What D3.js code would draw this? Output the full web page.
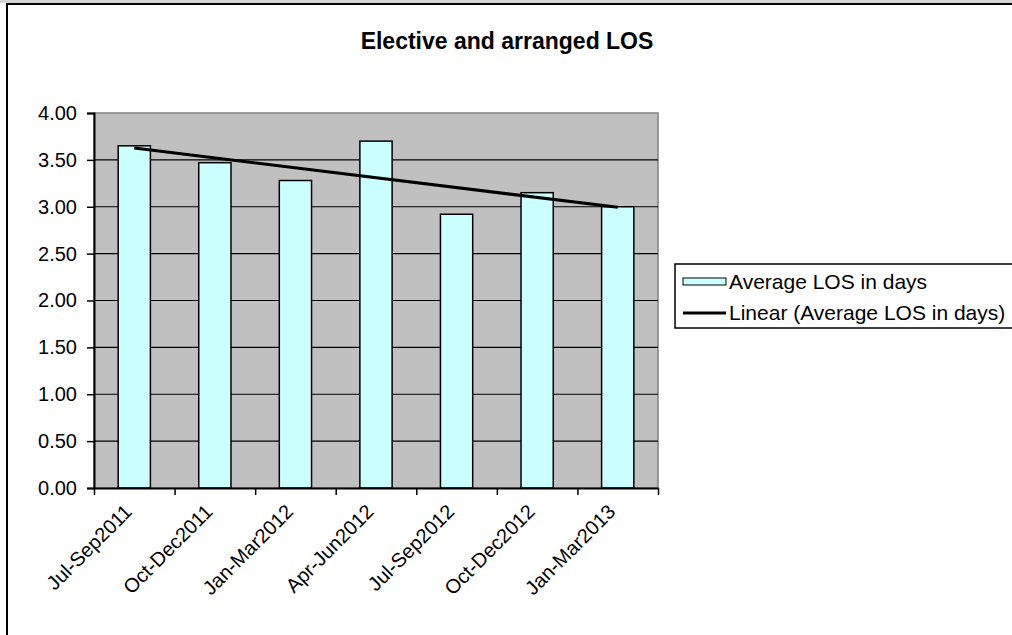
<!DOCTYPE html>
<html>
<head>
<meta charset="utf-8">
<script src="https://cdn.jsdelivr.net/npm/d3@7"></script>
<style>
  body { margin: 0; background: #fff; }
  svg { display: block; font-family: "Liberation Sans", Arial, sans-serif; }
</style>
</head>
<body>
<div id="chart"></div>
<script>
let categories = ["Jul-Sep2011", "Oct-Dec2011", "Jan-Mar2012", "Apr-Jun2012",
    "Jul-Sep2012", "Oct-Dec2012", "Jan-Mar2013"]
let losValues = [3.65, 3.47, 3.28, 3.70, 2.92, 3.15, 3.00]
let yTicks = [0, 0.5, 1, 1.5, 2, 2.5, 3, 3.5, 4]
let legendLabels = ["Average LOS in days", "Linear (Average LOS in days)"]
let chartTitle = "Elective and arranged LOS"

let colors = {
    plot: "#c0c0c0",
    bar: "#ccffff",
    ink: "#000000",
    frame: "#808080"
}

let width = 1012, height = 635
let plot = { left: 94, right: 658, top: 113, bottom: 488 }

const svg = d3.select('#chart')
    .append('svg')
    .attr('width', width)
    .attr('height', height)

// outer chart frame
svg.append('rect')
    .attr('x', 0).attr('y', 0)
    .attr('width', width).attr('height', 3)
    .attr('fill', '#d4d4d4')
svg.append('rect')
    .attr('x', 7).attr('y', 4)
    .attr('width', 1100).attr('height', 700)
    .attr('fill', 'none')
    .attr('stroke', colors.ink)
    .attr('stroke-width', 2)

svg.append('text')
    .attr('x', 507)
    .attr('y', 49)
    .attr('text-anchor', 'middle')
    .attr('font-size', '23px')
    .attr('font-weight', 'bold')
    .text(chartTitle)

const xScale = d3.scaleBand()
    .domain(categories)
    .range([plot.left, plot.right])
    .paddingInner(0.6)
    .paddingOuter(0.3)

const xEdges = d3.scaleLinear()
    .domain([0, categories.length])
    .range([plot.left, plot.right])

const yScale = d3.scaleLinear()
    .domain([0, 4])
    .range([plot.bottom, plot.top])

// plot background
svg.append('rect')
    .attr('x', plot.left)
    .attr('y', plot.top)
    .attr('width', plot.right - plot.left)
    .attr('height', plot.bottom - plot.top)
    .attr('fill', colors.plot)
    .attr('stroke', colors.frame)
    .attr('stroke-width', 1.5)

// gridlines
svg.append('g')
    .selectAll('line')
    .data(yTicks.filter(d => d > 0 && d < 4))
    .join('line')
    .attr('x1', plot.left)
    .attr('x2', plot.right)
    .attr('y1', d => yScale(d))
    .attr('y2', d => yScale(d))
    .attr('stroke', colors.ink)
    .attr('stroke-width', 1.2)

// bars
svg.append('g')
    .selectAll('rect')
    .data(losValues)
    .join('rect')
    .attr('x', (d, i) => xScale(categories[i]))
    .attr('y', d => yScale(d))
    .attr('width', xScale.bandwidth())
    .attr('height', d => yScale(0) - yScale(d))
    .attr('fill', colors.bar)
    .attr('stroke', colors.ink)
    .attr('stroke-width', 1.5)

// linear trend (least squares fit of the bars)
let xs = losValues.map((d, i) => i + 1)
let xMean = d3.mean(xs), yMean = d3.mean(losValues)
let slope = d3.sum(xs, (x, i) => (x - xMean) * (losValues[i] - yMean)) /
    d3.sum(xs, x => (x - xMean) * (x - xMean))
let intercept = yMean - slope * xMean
let trend = [1, categories.length].map(x => [x, intercept + slope * x])

svg.append('line')
    .attr('x1', xScale(categories[0]) + xScale.bandwidth() / 2)
    .attr('y1', yScale(trend[0][1]))
    .attr('x2', xScale(categories[categories.length - 1]) + xScale.bandwidth() / 2)
    .attr('y2', yScale(trend[1][1]))
    .attr('stroke', colors.ink)
    .attr('stroke-width', 3)

// axes
const yAxis = d3.axisLeft(yScale)
    .tickValues(yTicks)
    .tickFormat(d3.format('.2f'))
    .tickSize(7)
    .tickPadding(10)

const yAxisDraw = svg.append('g')
    .attr('transform', `translate(${plot.left}, 0)`)
    .call(yAxis)
yAxisDraw.select('.domain').attr('stroke-width', 2)
yAxisDraw.selectAll('.tick line').attr('stroke-width', 1.5)
yAxisDraw.selectAll('text')
    .attr('font-size', '20px')
    .attr('font-family', '"Liberation Sans", Arial, sans-serif')
    .attr('fill', colors.ink)

const xAxis = d3.axisBottom(xEdges)
    .tickValues(d3.range(0, categories.length + 1))
    .tickFormat('')
    .tickSize(7)
    .tickSizeOuter(0)

const xAxisDraw = svg.append('g')
    .attr('transform', `translate(0, ${plot.bottom})`)
    .call(xAxis)
xAxisDraw.select('.domain').attr('stroke-width', 2)
xAxisDraw.selectAll('.tick line').attr('stroke-width', 1.5)

svg.append('g')
    .selectAll('text')
    .data(categories)
    .join('text')
    .attr('transform', d => `translate(${xScale(d) + xScale.bandwidth() / 2 - 6}, ${plot.bottom + 20}) rotate(-45)`)
    .attr('text-anchor', 'end')
    .attr('dy', '0.35em')
    .attr('font-size', '20px')
    .text(d => d)

// legend
const legend = svg.append('g')
legend.append('rect')
    .attr('x', 675)
    .attr('y', 264)
    .attr('width', 400)
    .attr('height', 64)
    .attr('fill', '#fff')
    .attr('stroke', colors.ink)
    .attr('stroke-width', 1.5)

legend.append('rect')
    .attr('x', 683)
    .attr('y', 278)
    .attr('width', 43)
    .attr('height', 7)
    .attr('fill', colors.bar)
    .attr('stroke', colors.ink)
    .attr('stroke-width', 1)

legend.append('line')
    .attr('x1', 683)
    .attr('x2', 726)
    .attr('y1', 313)
    .attr('y2', 313)
    .attr('stroke', colors.ink)
    .attr('stroke-width', 3)

legend.selectAll('text.legend-label')
    .data(legendLabels)
    .join('text')
    .attr('class', 'legend-label')
    .attr('x', 729)
    .attr('y', (d, i) => 282 + i * 31)
    .attr('dy', '0.35em')
    .attr('font-size', '21px')
    .text(d => d)
</script>
</body>
</html>
